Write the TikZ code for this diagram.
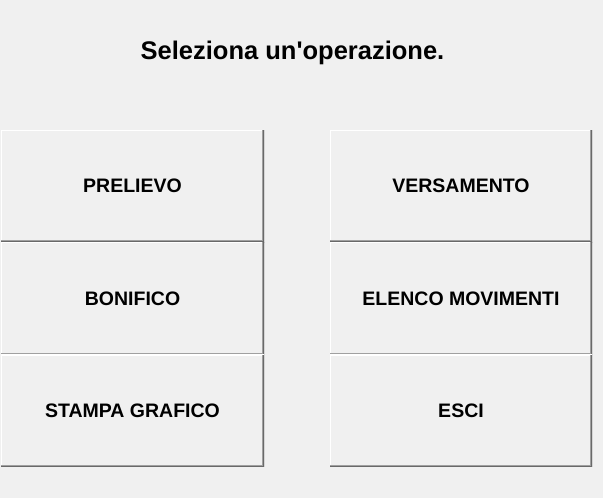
\documentclass[tikz,border=0pt]{standalone}
\usepackage{fontspec}
\setmainfont{Liberation Sans}
\definecolor{bg}{HTML}{F0F0F0}
\definecolor{shadowdark}{HTML}{696969}
\definecolor{shadowlight}{HTML}{A0A0A0}
\tikzset{
  btnbox/.style={
    rectangle, inner sep=0pt, fill=bg, draw=none,
    minimum height=112.3pt,
    font=\fontsize{19.5}{23}\selectfont\bfseries, text=black,
    path picture={
      \draw[white, line width=2pt]
        (path picture bounding box.south west) -- (path picture bounding box.north west)
        -- (path picture bounding box.north east);
      \draw[shadowlight, line width=4pt]
        (path picture bounding box.south west) -- (path picture bounding box.south east)
        -- (path picture bounding box.north east);
      \draw[shadowdark, line width=2pt]
        (path picture bounding box.south west) -- (path picture bounding box.south east)
        -- (path picture bounding box.north east);
    }
  },
  leftbtn/.style={btnbox, minimum width=263pt},
  rightbtn/.style={btnbox, minimum width=262pt},
  titletext/.style={font=\fontsize{25.5}{30}\selectfont\bfseries, text=black, inner sep=0pt, anchor=base}
}
\begin{document}
\begin{tikzpicture}[x=1pt,y=1pt]
\fill[bg] (0,0) rectangle (603,498);
\useasboundingbox (0,0) rectangle (603,498);
\node[titletext] (title) at (292.5,438.7) {Seleziona un\textquotesingle operazione.};
\node[leftbtn]  (prelievo)   at (132.5,311.8) {PRELIEVO};
\node[leftbtn]  (bonifico)   at (132.5,199.5) {BONIFICO};
\node[leftbtn]  (stampa)     at (132.5,87.2)  {STAMPA GRAFICO};
\node[rightbtn] (versamento) at (461,311.8)   {VERSAMENTO};
\node[rightbtn] (elenco)     at (461,199.5)   {ELENCO MOVIMENTI};
\node[rightbtn] (esci)       at (461,87.2)    {ESCI};
\end{tikzpicture}
\end{document}
